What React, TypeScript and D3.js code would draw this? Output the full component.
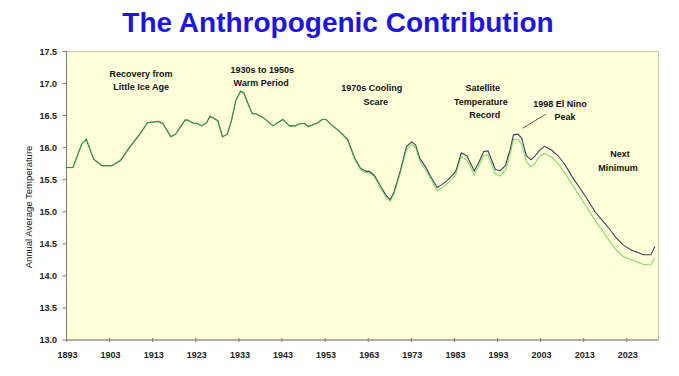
import React from "react";
import * as d3 from "d3";

const W = 679;
const H = 376;

const titleText = "The Anthropogenic Contribution";
const yAxisLabel = "Annual Average Temperature";

const xTickYears = [1893, 1903, 1913, 1923, 1933, 1943, 1953, 1963, 1973, 1983, 1993, 2003, 2013, 2023];
const yTickValues = [13.0, 13.5, 14.0, 14.5, 15.0, 15.5, 16.0, 16.5, 17.0, 17.5];

const years = [
  1893, 1894.5, 1896.5, 1897.6, 1899.3, 1901.2, 1903.5, 1905.5, 1907.8, 1910.1,
  1911.8, 1914.3, 1915.3, 1917.2, 1918.3, 1920.5, 1921.1, 1922.4, 1923.2, 1924.3,
  1925.5, 1926.3, 1928.1, 1929.2, 1930.3, 1931.3, 1932.3, 1933.4, 1934.1, 1935.1,
  1936.1, 1937, 1938.4, 1939.7, 1940.9, 1942, 1943.2, 1944.7, 1946.1, 1947,
  1948.2, 1949.1, 1950.3, 1951.3, 1952.3, 1953.2, 1954.4, 1955.5, 1956.7, 1958.2,
  1959.9, 1961.2, 1962.5, 1963.2, 1964.4, 1965.5, 1967.1, 1968.1, 1969, 1970.5,
  1971.9, 1973.1, 1974, 1975, 1976.3, 1977.5, 1979, 1980, 1981.7, 1983.3,
  1984.6, 1985.9, 1987.6, 1988.6, 1989.8, 1990.8, 1992.5, 1993.6, 1994.8, 1995.9,
  1996.7, 1997.7, 1998.6, 1999.7, 2000.8, 2001.7, 2002.9, 2003.9, 2005.6, 2007.1,
  2008.7, 2010.2, 2012.1, 2013.7, 2015.6, 2017.5, 2019.1, 2020.6, 2022.2, 2024.1,
  2025.7, 2026.8, 2028.6, 2029.5,
];

// dark (upper) series
const withAnthropogenic = [
  15.69, 15.69, 16.05, 16.13, 15.82, 15.72, 15.72, 15.80, 16.02, 16.22,
  16.39, 16.41, 16.38, 16.17, 16.21, 16.43, 16.43, 16.38, 16.38, 16.34,
  16.39, 16.49, 16.42, 16.17, 16.21, 16.43, 16.74, 16.88, 16.86, 16.69,
  16.53, 16.53, 16.48, 16.41, 16.34, 16.39, 16.44, 16.34, 16.34, 16.37,
  16.38, 16.33, 16.36, 16.39, 16.44, 16.44, 16.36, 16.30, 16.23, 16.13,
  15.83, 15.68, 15.63, 15.63, 15.57, 15.44, 15.26, 15.19, 15.31, 15.65,
  16.02, 16.09, 16.04, 15.83, 15.70, 15.55, 15.38, 15.42, 15.51, 15.63,
  15.92, 15.87, 15.64, 15.76, 15.94, 15.95, 15.66, 15.64, 15.72, 15.96,
  16.20, 16.21, 16.15, 15.87, 15.81, 15.87, 15.97, 16.02, 15.96, 15.87,
  15.73, 15.56, 15.37, 15.21, 15.00, 14.85, 14.72, 14.59, 14.48, 14.40,
  14.36, 14.33, 14.33, 14.46,
];

// green (lower) series
const naturalOnly = [
  15.69, 15.69, 16.05, 16.13, 15.82, 15.72, 15.72, 15.80, 16.02, 16.22,
  16.39, 16.41, 16.38, 16.17, 16.21, 16.43, 16.43, 16.38, 16.38, 16.34,
  16.39, 16.49, 16.42, 16.17, 16.21, 16.43, 16.74, 16.88, 16.86, 16.69,
  16.53, 16.53, 16.48, 16.41, 16.34, 16.39, 16.44, 16.34, 16.34, 16.37,
  16.38, 16.33, 16.36, 16.39, 16.44, 16.44, 16.36, 16.30, 16.23, 16.11,
  15.81, 15.66, 15.61, 15.61, 15.55, 15.42, 15.23, 15.16, 15.28, 15.62,
  15.98, 16.05, 16.00, 15.79, 15.66, 15.51, 15.33, 15.37, 15.46, 15.58,
  15.86, 15.81, 15.58, 15.70, 15.88, 15.89, 15.59, 15.56, 15.64, 15.89,
  16.13, 16.13, 16.05, 15.78, 15.70, 15.76, 15.87, 15.91, 15.85, 15.75,
  15.60, 15.44, 15.24, 15.07, 14.87, 14.69, 14.53, 14.40, 14.30, 14.25,
  14.21, 14.18, 14.17, 14.28,
];

const annotationLines = [
  ["Recovery from", "Little Ice Age"],
  ["1930s to 1950s", "Warm Period"],
  ["1970s Cooling", "Scare"],
  ["Satellite", "Temperature", "Record"],
  ["1998 El Nino", "Peak"],
  ["Next", "Minimum"],
];
// anchor year & temperature for each annotation block (first line)
const annotationYears = [1910.3, 1938.4, 1963.8, 1989.6, 2007.5, 2021.4];
const annotationTemps = [17.11, 17.17, 16.88, 16.88, 16.64, 15.85];
// small horizontal nudges (px) per line, to mimic the original's hand placement
const annotationNudges = [
  [0, 0],
  [0, -1],
  [0, 4],
  [0, -2, 2],
  [0, 5],
  [0, -2],
];

const plot = { left: 66.5, right: 658.5, top: 51.5, bottom: 340 };

export default function App() {
  const x = d3.scaleLinear().domain([1893, 2030]).range([plot.left, plot.right - 1.5]);
  const y = d3.scaleLinear().domain([13, 17.5]).range([plot.bottom, plot.top]);

  const idx = d3.range(years.length);
  const lineDark = d3
    .line<number>()
    .x((i) => x(years[i]))
    .y((i) => y(withAnthropogenic[i]));
  const lineGreen = d3
    .line<number>()
    .x((i) => x(years[i]))
    .y((i) => y(naturalOnly[i]));

  const font = "'Liberation Sans', Arial, sans-serif";
  const lineGap = 13.4;

  const peakI = d3.maxIndex(years.map((yr, i) => (yr > 1990 ? withAnthropogenic[i] : -Infinity)));

  return (
    <svg
      width={W}
      height={H}
      style={{ position: "fixed", left: 0, top: 0, background: "#ffffff" }}
      fontFamily={font}
    >
      <text x={338} y={32} textAnchor="middle" fontSize={28} fontWeight="bold" fill="#1c16e0">
        {titleText}
      </text>

      <rect
        x={plot.left}
        y={plot.top}
        width={plot.right - plot.left}
        height={plot.bottom - plot.top}
        fill="#ffffda"
        stroke="#c9c9b8"
        strokeWidth={1}
      />

      {/* y axis */}
      <line x1={plot.left} x2={plot.left} y1={plot.top} y2={plot.bottom} stroke="#7a7a7a" strokeWidth={1} />
      {yTickValues.map((v) => (
        <g key={v}>
          <line x1={plot.left - 4} x2={plot.left} y1={y(v)} y2={y(v)} stroke="#7a7a7a" />
          <text x={57} y={y(v) + 3.2} textAnchor="end" fontSize={9} fontWeight="bold" fill="#222">
            {v.toFixed(1)}
          </text>
        </g>
      ))}

      {/* x axis */}
      <line x1={plot.left} x2={plot.right} y1={plot.bottom} y2={plot.bottom} stroke="#7a7a7a" strokeWidth={1} />
      {xTickYears.map((yr) => (
        <g key={yr}>
          <line x1={x(yr)} x2={x(yr)} y1={plot.bottom - 2} y2={plot.bottom + 2} stroke="#7a7a7a" />
          <text x={x(yr) + 1} y={357.5} textAnchor="middle" fontSize={9} fontWeight="bold" fill="#222">
            {yr}
          </text>
        </g>
      ))}

      <text transform={`translate(32,207) rotate(-90)`} textAnchor="middle" fontSize={9.5} fill="#111">
        {yAxisLabel}
      </text>

      {/* series */}
      <path d={lineDark(idx) || ""} fill="none" stroke="#3c3c62" strokeWidth={1.1} />
      <path d={lineGreen(idx) || ""} fill="none" stroke="#33cc33" strokeOpacity={0.6} strokeWidth={1.2} />

      {/* annotations */}
      {annotationLines.map((lines, k) => (
        <text
          key={k}
          x={x(annotationYears[k])}
          y={y(annotationTemps[k])}
          textAnchor="middle"
          fontSize={9}
          fontWeight="bold"
          fill="#111"
        >
          {lines.map((t, j) => (
            <tspan key={j} x={x(annotationYears[k]) + annotationNudges[k][j]} dy={j === 0 ? 0 : lineGap}>
              {t}
            </tspan>
          ))}
        </text>
      ))}
      <line
        x1={x(years[peakI]) + 5}
        y1={y(withAnthropogenic[peakI]) - 6}
        x2={x(years[peakI]) + 28}
        y2={y(withAnthropogenic[peakI]) - 20}
        stroke="#333"
        strokeWidth={0.8}
      />
    </svg>
  );
}
